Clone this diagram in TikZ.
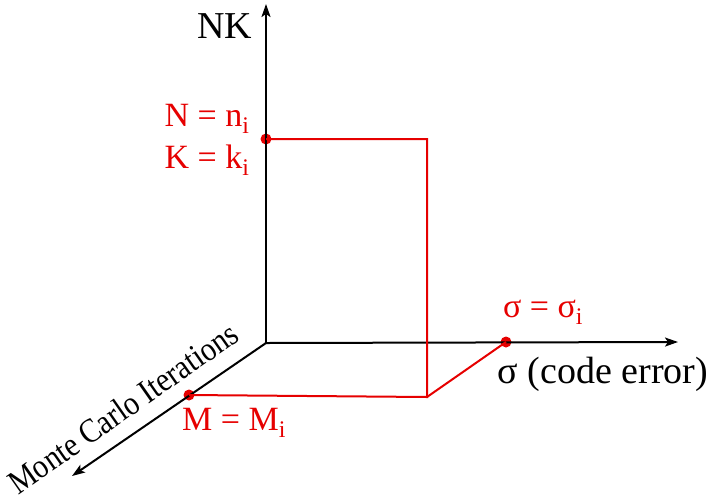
\documentclass[tikz,border=0pt]{standalone}
\usepackage{fontspec}
\usepackage{graphicx}
\setmainfont{Liberation Serif}
\usetikzlibrary{arrows.meta}
\definecolor{myred}{RGB}{230,0,0}
\begin{document}
\begin{tikzpicture}[x=1pt,y=-1pt,
  axis/.style={line width=2pt,-{Stealth[length=13pt,width=9pt,inset=3pt]}},
  redline/.style={myred,line width=2pt},
  reddot/.style={circle,fill=myred,inner sep=0pt,minimum size=11pt},
  lbl/.style={font=\fontsize{38}{42}\selectfont,inner sep=0pt},
  rlbl/.style={font=\fontsize{34}{38}\selectfont,inner sep=0pt,text=myred}]
\useasboundingbox (0,0) rectangle (714,496);
\coordinate (O) at (266,343);
\coordinate (Ytop) at (266,4);
\coordinate (Xend) at (678,342);
\coordinate (Zend) at (72,476);
\coordinate (C) at (427,397);
\coordinate (TR) at (427,139);
\node[reddot] (P) at (266,139) {};
\node[reddot] (M) at (189,395) {};
\node[reddot] (S) at (506,342) {};
\draw[axis] (O) -- (Ytop);
\draw[axis] (O) -- (Xend);
\draw[axis] (O) -- (Zend);
\draw[redline] (P.center) -- (TR) -- (C) -- (M.center);
\draw[redline] (C) -- (S.center);
\node[lbl] (nk) at (225,26) {NK};
\node[rlbl] (nl) at (207,119) {N = n\textsubscript{i}};
\node[rlbl] (kl) at (207,160) {K = k\textsubscript{i}};
\node[rlbl] (ml) at (234,423) {M = M\textsubscript{i}};
\node[rlbl] (sl) at (543,312) {σ = σ\textsubscript{i}};
\node[lbl] (xl) at (603,374) {σ (code error)};
\node[font=\fontsize{34}{38}\selectfont,inner sep=0pt,rotate=35] (zl) at (123,408) {\scalebox{0.88}[1]{Monte Carlo Iterations}};
\end{tikzpicture}
\end{document}
